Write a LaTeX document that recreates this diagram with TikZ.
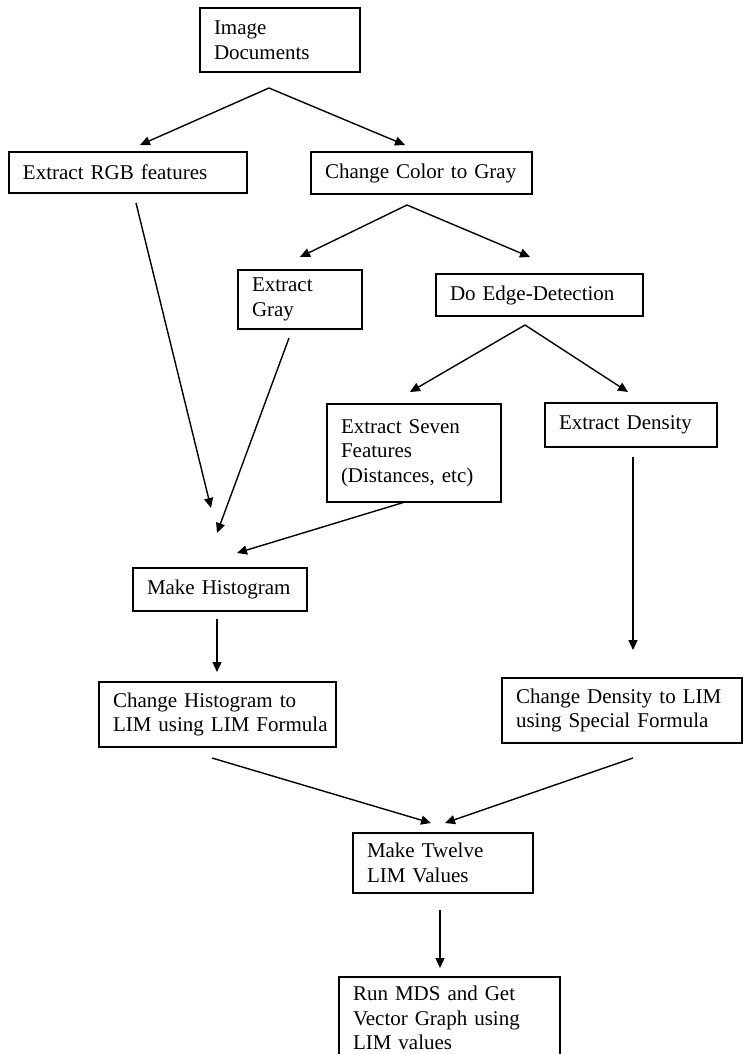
\documentclass[tikz,border=0pt]{standalone}
\usepackage{fontspec}
\setmainfont{Liberation Serif}
\usetikzlibrary{arrows.meta}
\begin{document}
\begin{tikzpicture}[x=1pt,y=-1pt,
  box/.style={draw, line width=1.5pt, rectangle, inner xsep=14pt, inner ysep=0pt, align=left, font=\fontsize{21}{24.5}\selectfont},
  arr/.style={line width=1.4pt, -{Triangle[length=10pt,width=9pt]}},
  ln/.style={line width=1.4pt}]
\useasboundingbox (0,0) rectangle (747,1054);
\clip (0,0) rectangle (747,1054);
% nodes
\node[box, text width=132pt, minimum height=64pt] (img) at (280,40) {Image\\Documents};
\node[box, text width=210pt, minimum height=41pt] (rgb) at (128,172.5) {Extract RGB features};
\node[box, text width=193pt, minimum height=42pt] (ccg) at (421.5,173) {Change Color to Gray};
\node[box, text width=96pt, minimum height=59pt] (gray) at (300,299.5) {Extract\\Gray};
\node[box, text width=179pt, minimum height=42pt] (edge) at (539.5,295) {Do Edge-Detection};
\node[box, text width=146pt, minimum height=98pt] (seven) at (414,453) {Extract Seven\\Features\\(Distances, etc)};
\node[box, text width=144pt, minimum height=44pt] (dens) at (631,425) {Extract Density};
\node[box, text width=146pt, minimum height=43pt] (hist) at (220,589.5) {Make Histogram};
\node[box, text width=209pt, minimum height=65pt] (chist) at (217.5,714.5) {\mbox{Change Histogram to}\\\mbox{LIM using LIM Formula}};
\node[box, text width=212pt, minimum height=65pt] (cdens) at (622,710.5) {\mbox{Change Density to LIM}\\\mbox{using Special Formula}};
\node[box, text width=152pt, minimum height=60pt] (twelve) at (443,863) {Make Twelve\\LIM Values};
\node[box, text width=193pt, minimum height=82pt] (mds) at (449.5,1018) {Run MDS and Get\\Vector Graph using\\LIM values};
% connector end points
\coordinate (a1) at (269,88);
\coordinate (t1) at (140,145);
\coordinate (t2) at (405,145);
\coordinate (a2) at (407,205);
\coordinate (t3) at (300,257);
\coordinate (t4) at (530,257);
\coordinate (a3) at (525,325);
\coordinate (t5) at (410,392);
\coordinate (t6) at (628,392);
\coordinate (rgbs) at (136,203);
\coordinate (rgbt) at (211,508);
\coordinate (grays) at (289,338);
\coordinate (grayt) at (217,533);
\coordinate (sevens) at (405,502);
\coordinate (sevent) at (237,553);
\coordinate (hists) at (217,619);
\coordinate (histt) at (217,672);
\coordinate (denss) at (633,457);
\coordinate (denst) at (633,650);
\coordinate (chists) at (212,758);
\coordinate (chistt) at (431,823);
\coordinate (cdenss) at (633,758);
\coordinate (cdenst) at (445,823);
\coordinate (twelves) at (440,910);
\coordinate (twelvet) at (440,968);
% connectors
\draw[arr] (a1) -- (t1);
\draw[arr] (a1) -- (t2);
\draw[arr] (a2) -- (t3);
\draw[arr] (a2) -- (t4);
\draw[arr] (a3) -- (t5);
\draw[arr] (a3) -- (t6);
\draw[arr] (rgbs) -- (rgbt);
\draw[arr] (grays) -- (grayt);
\draw[arr] (sevens) -- (sevent);
\draw[arr] (hists) -- (histt);
\draw[arr] (denss) -- (denst);
\draw[arr] (chists) -- (chistt);
\draw[arr] (cdenss) -- (cdenst);
\draw[arr] (twelves) -- (twelvet);
\end{tikzpicture}
\end{document}
